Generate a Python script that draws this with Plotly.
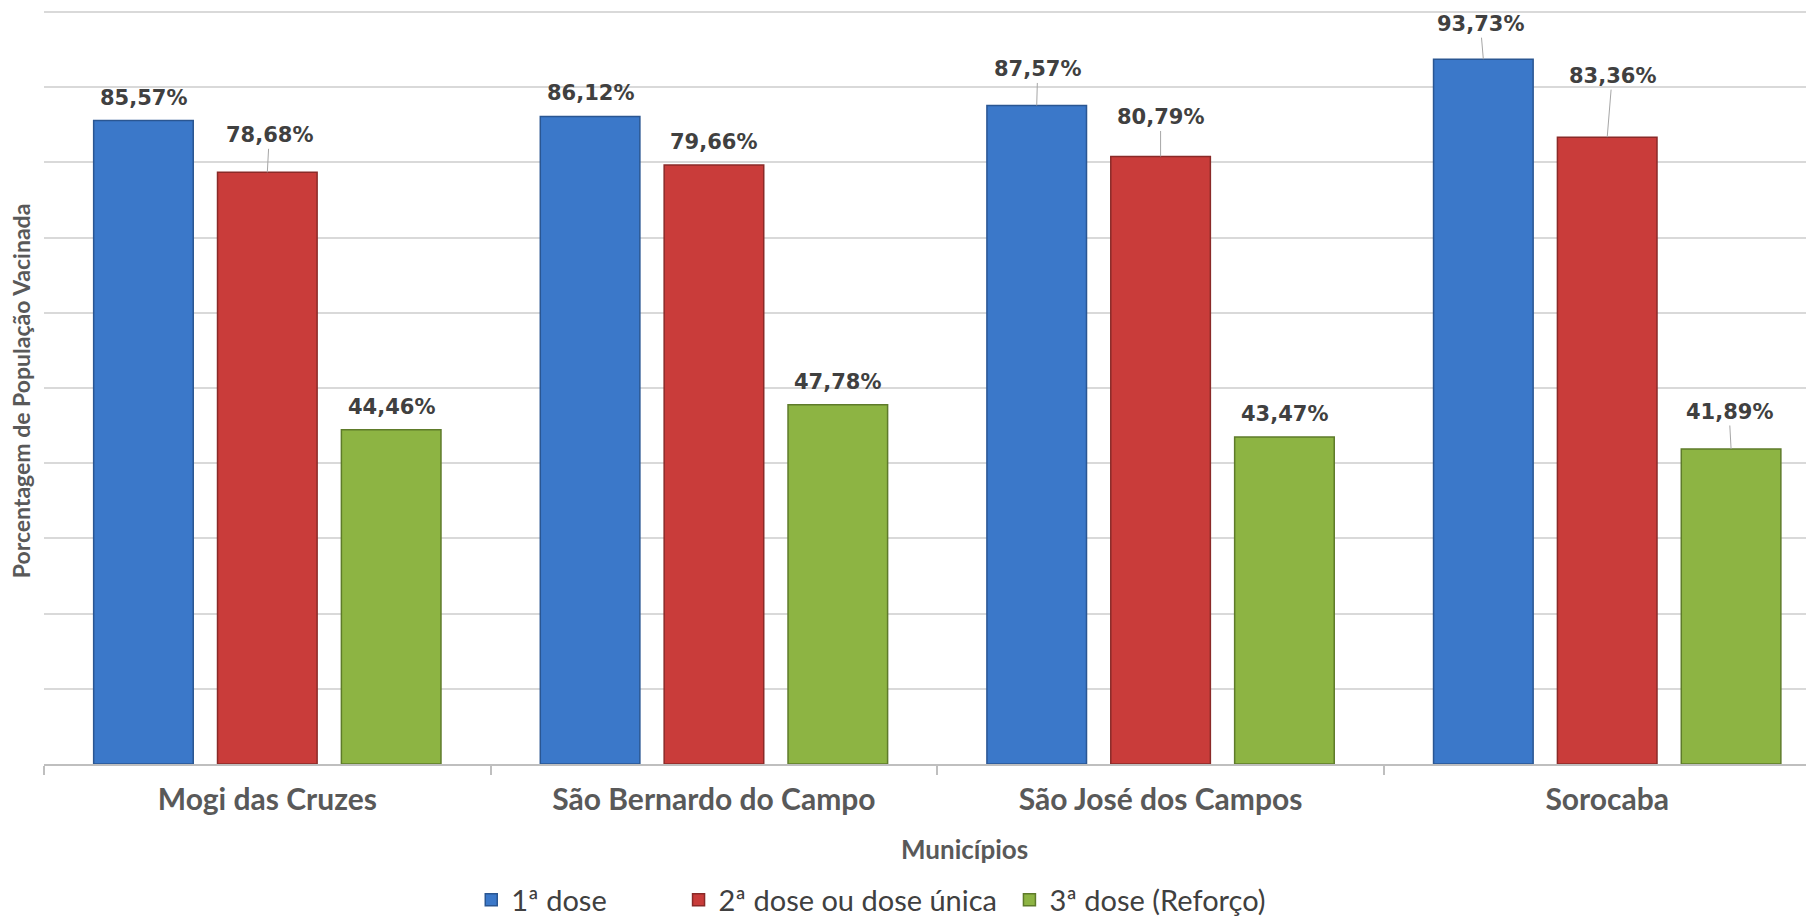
import plotly.graph_objects as go

categories = ["Mogi das Cruzes", "São Bernardo do Campo", "São José dos Campos", "Sorocaba"]
series_names = ["1ª dose", "2ª dose ou dose única", "3ª dose (Reforço)"]
dose1 = [85.57, 86.12, 87.57, 93.73]
dose2 = [78.68, 79.66, 80.79, 83.36]
dose3 = [44.46, 47.78, 43.47, 41.89]
series_values = [dose1, dose2, dose3]

fill_colors = ["#3B78C9", "#C93C3A", "#8DB443"]
line_colors = ["#2A5692", "#8A2A28", "#5E7B2A"]
legend_pad = [9, 1, 0]  # trailing non-breaking spaces for legend spacing

# label leader-line offsets (pixels): (ax, ay) per series per category; None -> plain label
label_offsets = [
    [None, None, (1, -36), (-3, -35)],
    [(2, -37), None, (0, -39), (5, -61)],
    [None, None, None, (-2, -37)],
]

bargap = 0.168
bargroupgap = 0.196
slot = (1 - bargap) / 3

fig = go.Figure()
for j, (name, vals) in enumerate(zip(series_names, series_values)):
    fig.add_trace(go.Bar(
        x=categories, y=vals, name=name + "\u00a0" * legend_pad[j],
        marker=dict(color=fill_colors[j], line=dict(color=line_colors[j], width=1.5)),
        hoverinfo="skip",
    ))

label_font = dict(family="DejaVu Sans", size=21, color="#404040")
for j, vals in enumerate(series_values):
    for i, v in enumerate(vals):
        xpos = i + (j - 1) * slot
        txt = f"<b>{v:.2f}%</b>".replace(".", ",")
        off = label_offsets[j][i]
        if off is None:
            fig.add_annotation(x=xpos, y=v, xref="x", yref="y", text=txt, showarrow=False,
                               yanchor="middle", yshift=23, font=label_font)
        else:
            fig.add_annotation(x=xpos, y=v, xref="x", yref="y", text=txt, showarrow=True,
                               ax=off[0], ay=off[1], arrowhead=0, arrowwidth=1,
                               arrowcolor="#A6A6A6", standoff=0, startstandoff=0,
                               font=label_font)

# axis titles
fig.add_annotation(text="<b>Municípios</b>", xref="paper", yref="paper", x=0.52, y=-0.112,
                   yanchor="middle", xanchor="center",
                   showarrow=False, font=dict(family="Lato", size=26, color="#595959"))
fig.add_annotation(text="<b>Porcentagem de População Vacinada</b>", xref="paper", yref="paper",
                   x=-0.013, y=0.495, textangle=-90, showarrow=False, xanchor="center",
                   font=dict(family="Lato", size=23, color="#595959"))

fig.update_layout(
    width=1806, height=909,
    barmode="group", bargap=bargap, bargroupgap=bargroupgap,
    plot_bgcolor="white", paper_bgcolor="white",
    margin=dict(l=36, r=0, t=1, b=153),
    font=dict(family="Lato", color="#404040"),
    showlegend=True,
    legend=dict(orientation="h", xref="container", yref="container", x=0.478, y=0.0187,
                xanchor="center", yanchor="middle",
                font=dict(family="Lato", size=29, color="#404040"),
                itemwidth=30, tracegroupgap=0),
    xaxis=dict(
        range=[-0.5, 3.463], showgrid=False, showline=True, linecolor="#BFBFBF", linewidth=1.5,
        ticks="outside", tickson="boundaries", ticklen=9, tickcolor="#BFBFBF", tickwidth=1.5,
        tickfont=dict(family="Lato", size=30, color="#595959"),
        ticklabelstandoff=8,
    ),
    yaxis=dict(
        range=[0, 100.4], dtick=10, showgrid=True, gridcolor="#D9D9D9", gridwidth=1.5,
        showticklabels=False, zeroline=False, showline=False, ticks="",
    ),
)
fig.update_xaxes(tickprefix="<b>", ticksuffix="</b>")

fig.write_html("out.html")
